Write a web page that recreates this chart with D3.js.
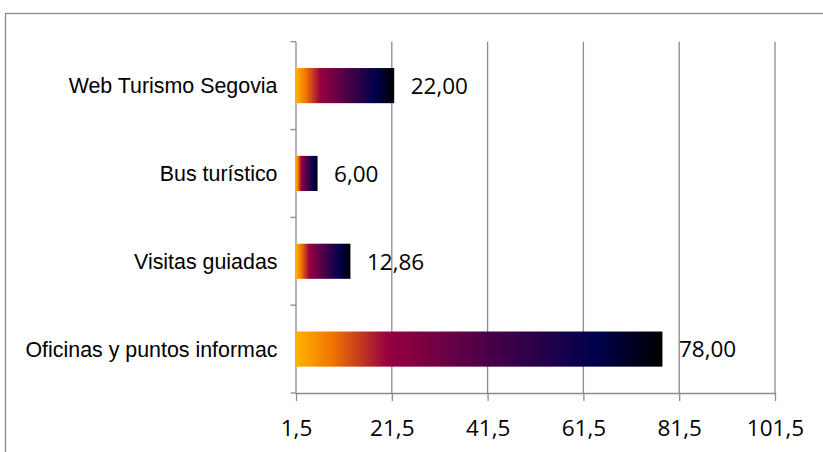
<!DOCTYPE html>
<html>
<head>
<meta charset="utf-8">
<script src="https://cdn.jsdelivr.net/npm/d3@7/dist/d3.min.js"></script>
<style>
  html, body { margin: 0; padding: 0; background: #fff; }
  svg { display: block; }
</style>
</head>
<body>
<svg id="chart" width="823" height="452"></svg>
<script>
const categories = ["Web Turismo Segovia", "Bus turístico", "Visitas guiadas", "Oficinas y puntos informac"];
const values = [22.00, 6.00, 12.86, 78.00];
const valueLabels = ["22,00", "6,00", "12,86", "78,00"];
const xTicks = [1.5, 21.5, 41.5, 61.5, 81.5, 101.5];
const xTickLabels = ["1,5", "21,5", "41,5", "61,5", "81,5", "101,5"];
const gradientStops = [
  {offset: 0, color: "#ffb300"},
  {offset: 0.1, color: "#f07400"},
  {offset: 0.25, color: "#970040"},
  {offset: 0.55, color: "#420048"},
  {offset: 0.82, color: "#00004c"},
  {offset: 1, color: "#000000"}
];

(function () {
const svg = d3.select("#chart");
const plotLeft = 296, plotRight = 775, plotTop = 41.7, plotBottom = 393;

// outer border (extends beyond viewport at right and bottom)
svg.append("rect")
  .attr("x", 5.5).attr("y", 13.5)
  .attr("width", 900).attr("height", 600)
  .attr("fill", "none").attr("stroke", "#8a8a8a").attr("stroke-width", 1.3);

const x = d3.scaleLinear().domain([1.5, 101.5]).range([plotLeft, plotRight]);
const y = d3.scaleBand().domain(categories).range([plotTop, plotBottom]).paddingInner(0.6).paddingOuter(0.3);

const defs = svg.append("defs");
const grad = defs.append("linearGradient").attr("id", "barGrad")
  .attr("x1", "0%").attr("x2", "100%").attr("y1", "0%").attr("y2", "0%");
grad.selectAll("stop").data(gradientStops).enter().append("stop")
  .attr("offset", d => d.offset).attr("stop-color", d => d.color);

const gridColor = "#8c8c8c";

// vertical gridlines
svg.append("g").selectAll("line").data(xTicks.slice(1)).enter().append("line")
  .attr("x1", d => x(d)).attr("x2", d => x(d))
  .attr("y1", plotTop).attr("y2", plotBottom)
  .attr("stroke", gridColor).attr("stroke-width", 1.3);

// x axis
const xAxis = d3.axisBottom(x).tickValues(xTicks)
  .tickFormat((d, i) => xTickLabels[i]).tickSize(8).tickSizeOuter(0).tickPadding(19.5);
const gx = svg.append("g").attr("transform", `translate(0,${plotBottom})`).call(xAxis);
gx.select(".domain").attr("stroke", gridColor).attr("stroke-width", 1.3);
gx.selectAll(".tick line").attr("stroke", gridColor).attr("stroke-width", 1.3);
gx.selectAll(".tick text")
  .attr("font-family", "'Open Sans', sans-serif").attr("font-size", "22.5px")
  .attr("fill", "#000");

// y axis line and boundary ticks
const boundaries = d3.range(categories.length + 1).map(i => plotTop + i * (plotBottom - plotTop) / categories.length);
svg.append("line").attr("x1", plotLeft).attr("x2", plotLeft).attr("y1", plotTop).attr("y2", plotBottom)
  .attr("stroke", gridColor).attr("stroke-width", 1.3);
svg.append("g").selectAll("line").data(boundaries).enter().append("line")
  .attr("x1", plotLeft - 5.5).attr("x2", plotLeft).attr("y1", d => d).attr("y2", d => d)
  .attr("stroke", gridColor).attr("stroke-width", 1.3);

// category labels
svg.append("g").selectAll("text").data(categories).enter().append("text")
  .attr("x", 277.5).attr("y", d => y(d) + y.bandwidth() / 2)
  .attr("dy", "0.35em")
  .attr("text-anchor", "end")
  .attr("font-family", "'Liberation Sans', Arial, sans-serif")
  .attr("font-size", "21.4px").attr("fill", "#000")
  .text(d => d);

// bars
svg.append("g").selectAll("rect").data(values).enter().append("rect")
  .attr("x", x(1.5))
  .attr("y", (d, i) => y(categories[i]))
  .attr("width", d => x(d) - x(1.5))
  .attr("height", y.bandwidth())
  .attr("fill", "url(#barGrad)");

// value labels
svg.append("g").selectAll("text").data(values).enter().append("text")
  .attr("x", d => x(d) + 16.5)
  .attr("y", (d, i) => y(categories[i]) + y.bandwidth() / 2)
  .attr("dy", "0.37em")
  .attr("font-family", "'Open Sans', sans-serif")
  .attr("font-size", "22.5px").attr("fill", "#000")
  .text((d, i) => valueLabels[i]);
})();
</script>
</body>
</html>
